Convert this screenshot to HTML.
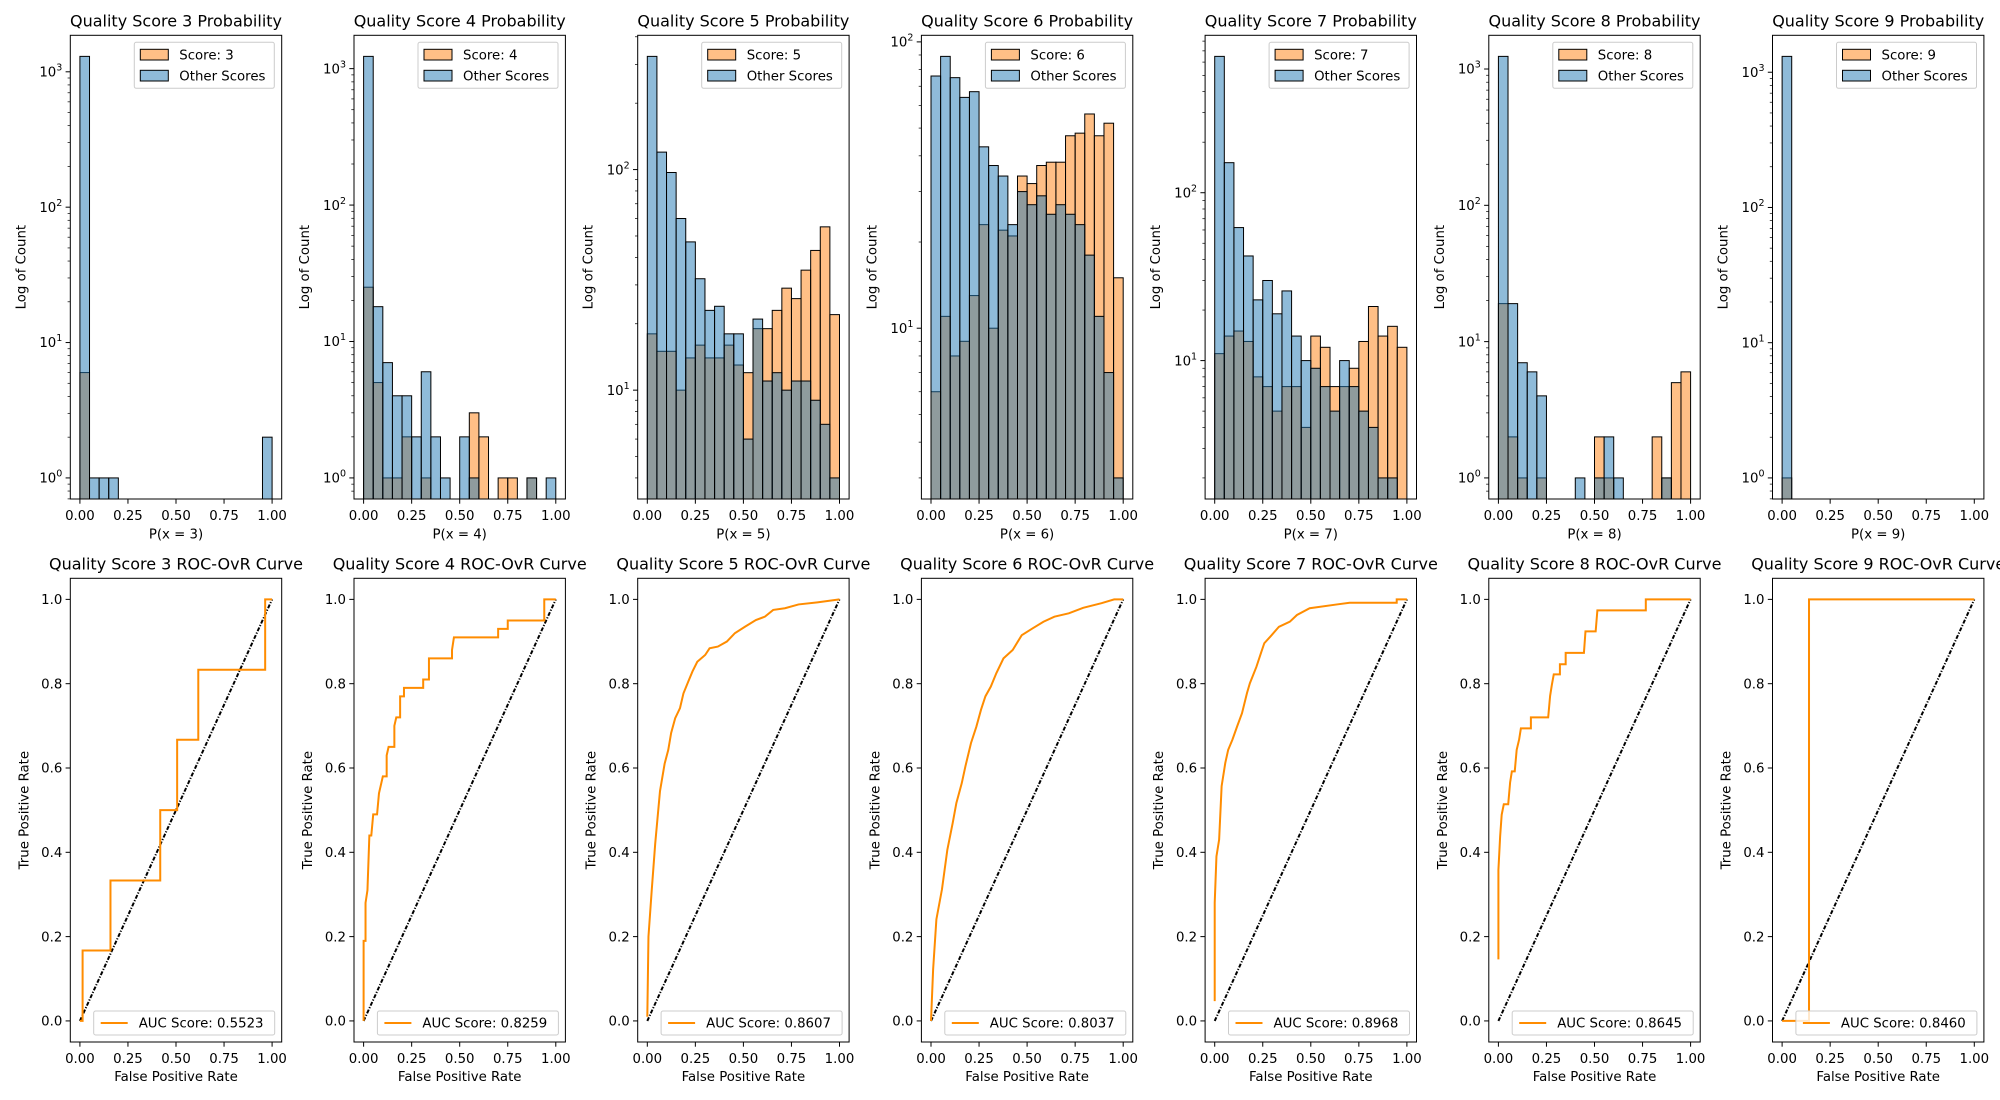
<!DOCTYPE html>
<html><head><meta charset="utf-8"><style>
html,body{margin:0;padding:0;background:#fff;}
svg{display:block;font-family:"DejaVu Sans","Liberation Sans",sans-serif;}
</style></head>
<body>
<svg id="fig" width="2000" height="1100" viewBox="0 0 2000 1100" xmlns="http://www.w3.org/2000/svg"></svg>
<script>
// ---- data ----
const scoreLabels = [3,4,5,6,7,8,9];
const binEdgesStart = 0;
const binWidth = 0.05;
const otherCounts = [
  [1300,1,1,1,0,0,0,0,0,0,0,0,0,0,0,0,0,0,0,2],
  [1230,18,7,4,4,2,6,2,1,0,2,1,0,0,0,0,0,1,0,1],
  [326,120,97,60,47,32,23,24,18,18,6,21,11,12,10,11,11,9,7,4],
  [76,89,75,64,67,43,37,34,23,30,27,29,25,27,25,23,18,11,7,3],
  [649,151,62,42,23,30,19,26,14,10,9,7,5,10,7,5,4,2,2,0],
  [1238,19,7,6,4,0,0,0,1,0,1,2,1,0,0,0,0,1,0,0],
  [1310,0,0,0,0,0,0,0,0,0,0,0,0,0,0,0,0,0,0,0]
];
const scoreCounts = [
  [6,0,0,0,0,0,0,0,0,0,0,0,0,0,0,0,0,0,0,0],
  [25,5,1,1,2,0,1,0,0,0,0,3,2,0,1,1,0,1,0,0],
  [18,15,15,10,14,16,14,14,16,13,12,19,19,23,29,26,35,43,55,22],
  [6,11,8,9,13,23,10,22,21,34,32,37,38,38,47,48,56,47,52,15],
  [11,14,15,13,8,7,5,7,7,4,14,12,7,7,9,13,21,14,16,12],
  [19,2,1,0,1,0,0,0,0,0,2,1,0,0,0,0,2,1,5,6],
  [1,0,0,0,0,0,0,0,0,0,0,0,0,0,0,0,0,0,0,0]
];
const aucScores = ["0.5523","0.8259","0.8607","0.8037","0.8968","0.8645","0.8460"];
const rocFpr = [
  [0,0.014,0.014,0.159,0.159,0.418,0.418,0.506,0.506,0.616,0.616,0.964,0.964,1],
  [0,0,0.01,0.01,0.02,0.03,0.04,0.05,0.07,0.08,0.09,0.10,0.12,0.12,0.13,0.16,0.16,0.17,0.19,0.19,0.21,0.21,0.31,0.31,0.34,0.34,0.46,0.46,0.47,0.70,0.70,0.75,0.75,0.94,0.94,1],
  [0,0.006,0.023,0.041,0.053,0.066,0.09,0.109,0.124,0.145,0.17,0.188,0.213,0.235,0.26,0.301,0.324,0.367,0.414,0.456,0.508,0.565,0.612,0.655,0.716,0.787,0.885,1],
  [0,0.011,0.028,0.057,0.085,0.113,0.132,0.16,0.179,0.208,0.236,0.26,0.283,0.311,0.34,0.377,0.425,0.472,0.528,0.585,0.642,0.717,0.792,0.887,0.953,1],
  [0,0,0.009,0.023,0.036,0.055,0.07,0.092,0.117,0.142,0.168,0.183,0.217,0.243,0.258,0.296,0.334,0.391,0.428,0.494,0.636,0.702,0.947,0.947,1],
  [0,0,0.009,0.017,0.028,0.051,0.061,0.07,0.085,0.095,0.108,0.117,0.169,0.169,0.259,0.269,0.278,0.288,0.32,0.32,0.35,0.35,0.445,0.453,0.506,0.515,0.767,0.767,1],
  [0,0.14,0.14,1]
];
const rocTpr = [
  [0,0,0.167,0.167,0.333,0.333,0.5,0.5,0.667,0.667,0.833,0.833,1,1],
  [0,0.19,0.19,0.28,0.31,0.44,0.44,0.49,0.49,0.54,0.56,0.58,0.58,0.63,0.65,0.65,0.70,0.72,0.72,0.77,0.77,0.79,0.79,0.81,0.81,0.86,0.86,0.88,0.91,0.91,0.93,0.93,0.95,0.95,1,1],
  [0.01,0.2,0.31,0.42,0.48,0.545,0.61,0.643,0.683,0.718,0.742,0.777,0.805,0.829,0.852,0.868,0.884,0.888,0.9,0.92,0.935,0.951,0.959,0.975,0.979,0.988,0.993,1],
  [0,0.122,0.241,0.312,0.406,0.47,0.517,0.564,0.604,0.659,0.698,0.738,0.77,0.793,0.825,0.86,0.88,0.915,0.931,0.947,0.959,0.967,0.98,0.991,1,1],
  [0.047,0.28,0.39,0.43,0.557,0.612,0.643,0.667,0.699,0.73,0.778,0.801,0.84,0.876,0.896,0.915,0.935,0.947,0.963,0.979,0.988,0.992,0.992,1,1],
  [0.146,0.358,0.438,0.489,0.514,0.514,0.566,0.592,0.592,0.643,0.668,0.694,0.694,0.72,0.72,0.771,0.797,0.822,0.822,0.846,0.846,0.873,0.873,0.924,0.924,0.974,0.974,1,1],
  [0,0,1,1]
];
const xTickVals = [0,0.25,0.5,0.75,1];
const xTickLabels = ["0.00","0.25","0.50","0.75","1.00"];
const rocYTickVals = [0,0.2,0.4,0.6,0.8,1];
const rocYTickLabels = ["0.0","0.2","0.4","0.6","0.8","1.0"];

// ---- layout ----
const svg = document.getElementById('fig');
const NS = 'http://www.w3.org/2000/svg';
const AX_L0 = 70.3, AX_STEP = 283.7, AX_W = 211.4;
const TOP_T = 35.3, TOP_B = 499, BOT_T = 578.3, BOT_B = 1042;

function mk(tag, attrs, parent){
  const e = document.createElementNS(NS, tag);
  for (const k in attrs) e.setAttribute(k, attrs[k]);
  (parent || svg).appendChild(e);
  return e;
}
function xScale(axL){ return v => axL + (v + 0.05) / 1.1 * AX_W; }

for (let i = 0; i < scoreLabels.length; i++){
  const s = scoreLabels[i];
  const axL = AX_L0 + i * AX_STEP, axR = axL + AX_W;
  const X = xScale(axL);

  // ========== histogram panel ==========
  const g = mk('g', {});
  
  
  const oc = otherCounts[i], sc = scoreCounts[i];
  const allPos = oc.concat(sc).filter(v => v > 0);
  const lmin = Math.log10(Math.min(...allPos)), lmax = Math.log10(Math.max(...allPos));
  const span = lmax - lmin;
  const lo = lmin - 0.05 * span, hi = lmax + 0.05 * span;
  const Y = v => TOP_B - (Math.log10(v) - lo) / (hi - lo) * (TOP_B - TOP_T);

  function drawBars(arr, fill, nm){
    for (let b = 0; b < arr.length; b++){
      if (arr[b] <= 0) continue;
      const x0 = X(binEdgesStart + b * binWidth), x1 = X(binEdgesStart + (b + 1) * binWidth);
      const y = Y(arr[b]);
      const r = mk('rect', {x: x0, y: y, width: x1 - x0, height: TOP_B - y, fill: fill, 'fill-opacity': 0.5, stroke: '#000', 'stroke-width': 1}, g);
      
      
    }
  }
  drawBars(sc, '#ff7f0e', 'score-' + s);
  drawBars(oc, '#1f77b4', 'other-scores');

  const fr = mk('rect', {x: axL, y: TOP_T, width: AX_W, height: TOP_B - TOP_T, fill: 'none', stroke: '#000', 'stroke-width': 1}, g);
  
  

  for (let t = 0; t < xTickVals.length; t++){
    const xx = X(xTickVals[t]);
    mk('line', {x1: xx, x2: xx, y1: TOP_B, y2: TOP_B + 4.7, stroke: '#000', 'stroke-width': 1}, g);
    const tl = mk('text', {x: xx, y: TOP_B + 21, 'font-size': 13.3, 'text-anchor': 'middle'}, g);
    tl.textContent = xTickLabels[t];
    
    
  }
  for (let d = Math.floor(lo); d <= Math.ceil(hi); d++){
    for (let m = 1; m <= 9; m++){
      const v = m * Math.pow(10, d);
      const lv = Math.log10(v);
      if (lv < lo || lv > hi) continue;
      const yy = Y(v);
      mk('line', {x1: axL, x2: axL - (m === 1 ? 4.7 : 2.7), y1: yy, y2: yy, stroke: '#000', 'stroke-width': m === 1 ? 1 : 0.7}, g);
      if (m === 1){
        const tl = mk('text', {x: axL - 8, y: yy + 4.7, 'font-size': 13.3, 'text-anchor': 'end'}, g);
        
        
        tl.appendChild(document.createTextNode('10'));
        const sup = mk('tspan', {dy: -6, 'font-size': 9.5}, tl);
        sup.textContent = String(d);
      }
    }
  }
  const ttl = mk('text', {x: axL + AX_W / 2, y: TOP_T - 9, 'font-size': 16, 'text-anchor': 'middle'}, g);
  ttl.textContent = 'Quality Score ' + s + ' Probability';
  
  
  const xl = mk('text', {x: axL + AX_W / 2, y: 538.5, 'font-size': 13.3, 'text-anchor': 'middle'}, g);
  xl.textContent = 'P(x = ' + s + ')';
  
  
  const ylx = axL - 45, yly = (TOP_T + TOP_B) / 2;
  const yl = mk('text', {x: ylx, y: yly, 'font-size': 13.3, 'text-anchor': 'middle', transform: 'rotate(-90 ' + ylx + ' ' + yly + ')'}, g);
  yl.textContent = 'Log of Count';
  
  

  const lg = mk('g', {}, g);
  
  
  const bx = axR - 7.4 - 140, by = TOP_T + 7;
  mk('rect', {x: bx, y: by, width: 140, height: 46, rx: 2, fill: '#fff', 'fill-opacity': 0.8, stroke: '#cccccc', 'stroke-width': 1}, lg);
  const e1 = mk('rect', {x: bx + 6, y: by + 7, width: 28, height: 10.7, fill: '#ff7f0e', 'fill-opacity': 0.5, stroke: '#000', 'stroke-width': 1}, lg);
  
  
  const t1 = mk('text', {x: bx + 45, y: by + 17, 'font-size': 13.3}, lg);
  t1.textContent = 'Score: ' + s;
  const e2 = mk('rect', {x: bx + 6, y: by + 28, width: 28, height: 10.7, fill: '#1f77b4', 'fill-opacity': 0.5, stroke: '#000', 'stroke-width': 1}, lg);
  
  
  const t2 = mk('text', {x: bx + 45, y: by + 38, 'font-size': 13.3}, lg);
  t2.textContent = 'Other Scores';

  // ========== ROC panel ==========
  const r = mk('g', {});
  
  
  const RY = v => BOT_B - (v + 0.05) / 1.1 * (BOT_B - BOT_T);
  const frm = mk('rect', {x: axL, y: BOT_T, width: AX_W, height: BOT_B - BOT_T, fill: 'none', stroke: '#000', 'stroke-width': 1}, r);
  
  
  const diag = mk('line', {x1: X(0), y1: RY(0), x2: X(1), y2: RY(1), stroke: '#000', 'stroke-width': 2, 'stroke-dasharray': '4,1.6,1.2,1.6'}, r);
  
  
  const pts = rocFpr[i].map((f, k) => X(f).toFixed(2) + ',' + RY(rocTpr[i][k]).toFixed(2)).join(' ');
  const curve = mk('polyline', {points: pts, fill: 'none', stroke: '#ff8c00', 'stroke-width': 2, 'stroke-linejoin': 'miter'}, r);
  
  
  for (let t = 0; t < xTickVals.length; t++){
    const xx = X(xTickVals[t]);
    mk('line', {x1: xx, x2: xx, y1: BOT_B, y2: BOT_B + 4.7, stroke: '#000', 'stroke-width': 1}, r);
    const tl = mk('text', {x: xx, y: BOT_B + 21, 'font-size': 13.3, 'text-anchor': 'middle'}, r);
    tl.textContent = xTickLabels[t];
    
    
  }
  for (let t = 0; t < rocYTickVals.length; t++){
    const yy = RY(rocYTickVals[t]);
    mk('line', {x1: axL, x2: axL - 4.7, y1: yy, y2: yy, stroke: '#000', 'stroke-width': 1}, r);
    const tl = mk('text', {x: axL - 8, y: yy + 4.7, 'font-size': 13.3, 'text-anchor': 'end'}, r);
    tl.textContent = rocYTickLabels[t];
    
    
  }
  const rt = mk('text', {x: axL + AX_W / 2, y: BOT_T - 9, 'font-size': 16, 'text-anchor': 'middle'}, r);
  rt.textContent = 'Quality Score ' + s + ' ROC-OvR Curve';
  
  
  const rxl = mk('text', {x: axL + AX_W / 2, y: 1081, 'font-size': 13.3, 'text-anchor': 'middle'}, r);
  rxl.textContent = 'False Positive Rate';
  
  
  const rylx = axL - 42, ryly = (BOT_T + BOT_B) / 2;
  const ryl = mk('text', {x: rylx, y: ryly, 'font-size': 13.3, 'text-anchor': 'middle', transform: 'rotate(-90 ' + rylx + ' ' + ryly + ')'}, r);
  ryl.textContent = 'True Positive Rate';
  
  
  const rl = mk('g', {}, r);
  
  
  const lbx = axR - 7 - 181, lby = BOT_B - 7 - 24;
  mk('rect', {x: lbx, y: lby, width: 181, height: 24, rx: 2, fill: '#fff', 'fill-opacity': 0.8, stroke: '#cccccc', 'stroke-width': 1}, rl);
  mk('line', {x1: lbx + 7, x2: lbx + 34, y1: lby + 12, y2: lby + 12, stroke: '#ff8c00', 'stroke-width': 2}, rl);
  const at = mk('text', {x: lbx + 45, y: lby + 16.7, 'font-size': 13.3}, rl);
  at.textContent = 'AUC Score: ' + aucScores[i];
  
  
}
</script>
</body></html>
